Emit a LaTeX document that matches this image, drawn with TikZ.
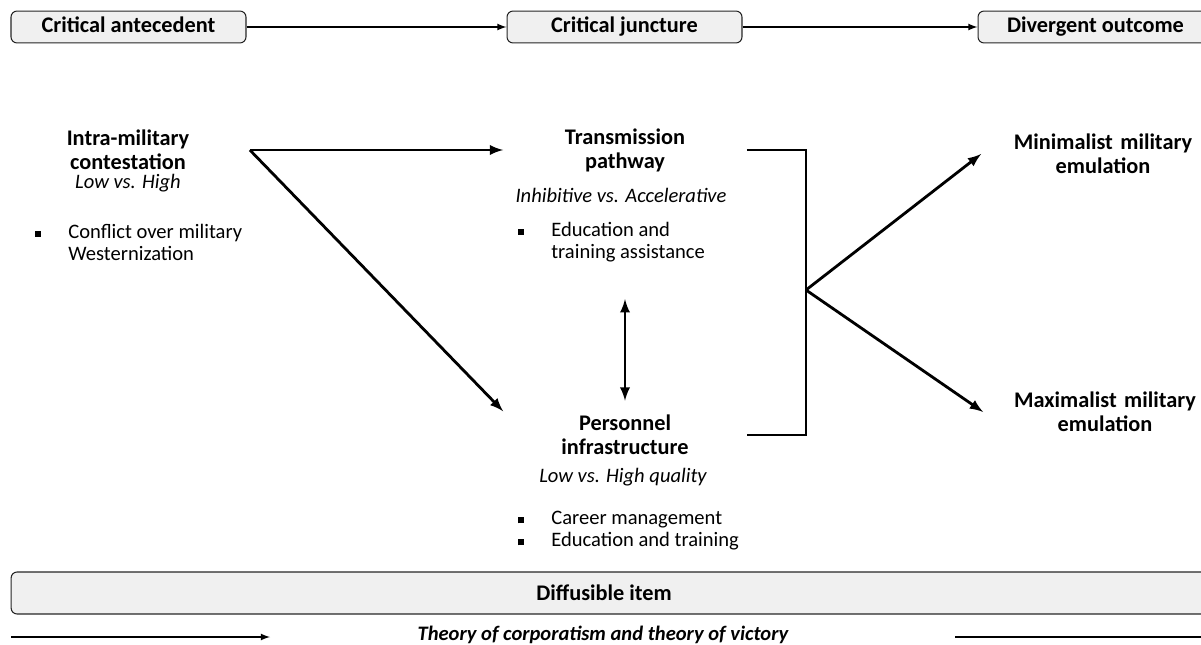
\documentclass[tikz,border=0pt]{standalone}
\usepackage{fontspec}
\setmainfont{Carlito}
\usetikzlibrary{shapes.geometric, arrows}

\newcommand{\bul}{\makebox[0.7cm][l]{\hspace{0.04cm}\rule[0.15ex]{3.4pt}{3.4pt}}}
\newcommand{\bulgap}{\hspace*{0.7cm}}

\tikzstyle{headNode} = [rectangle, minimum width=4.7cm, minimum height=0.6cm, text centered, text height=9pt, text depth=2.5pt, rounded corners=0.12cm, draw=black!85, fill=black!6, semithick, font=\bfseries\fontsize{12.7}{13.6}\selectfont]
\tikzstyle{titleNode} = [text width=4.72cm, align=center, inner sep=2pt, font=\bfseries\fontsize{12.7}{13.6}\selectfont]
\tikzstyle{valNode} = [font=\itshape\fontsize{11.7}{12.5}\selectfont]
\tikzstyle{listNode} = [anchor=west, inner sep=0pt, align=left, font=\fontsize{11.7}{12.5}\selectfont]
\tikzstyle{arrow} = [thick,->,>=latex,draw=black]
\tikzstyle{arrowT} = [ultra thick,->,>=latex,draw=black]
\tikzstyle{arrowD} = [ultra thick,<->,>=latex,draw=black]
\tikzstyle{lineT} = [ultra thick,draw=black]

\begin{document}
\begin{tikzpicture}[x=0.02cm, y=-0.02cm]
    \useasboundingbox (0,0) rectangle (1201,645);

    % stages along the top
    \node (ante) [headNode] at (128.5,27) {Critical antecedent};
    \node (junct) [headNode] at (624.5,27) {Critical juncture};
    \node (outc) [headNode] at (1095.5,27) {Divergent outcome};
    \draw [arrow] (ante) -- (junct);
    \draw [arrow] (junct) -- (outc);

    % antecedent
    \node (intra) [titleNode] at (128,150) {Intra-military\\contestation};
    \node (intraV) [valNode] at (128,183) {Low vs. High};
    \node (intraB) [listNode] at (33,242) {\bul Conflict over military\\\bulgap Westernization};

    % juncture
    \node (trans) [titleNode] at (625,150) {Transmission\\pathway};
    \node (transV) [valNode] at (621,195) {Inhibitive vs. Accelerative};
    \node (transB) [listNode] at (516,242) {\bul Education and\\\bulgap training assistance};

    \node (pers) [titleNode] at (625,435) {Personnel\\infrastructure};
    \node (persV) [valNode] at (623,477) {Low vs. High quality};
    \node (persB) [listNode] at (516,531) {\bul Career management\\\bul Education and training};

    % outcomes
    \node (mini) [titleNode] at (1103,154) {Minimalist military\\emulation};
    \node (maxi) [titleNode] at (1105,412) {Maximalist military\\emulation};
    \coordinate (fork) at (806,290);

    \draw [arrowT] (intra.east) -- (trans.west);
    \draw [arrowT] (intra.east) -- (pers.north west);
    \draw [arrowD, shorten <=21pt, shorten >=6pt] (transB.south -| pers.north) -- (pers.north);
    \draw [lineT] (trans.east) -| (fork) |- (pers.east);
    \draw [arrowT] (fork) -- (mini.west);
    \draw [arrowT] (fork) -- (maxi.west);

    % diffusible item
    \node (item) [headNode, minimum width=23.92cm, minimum height=0.84cm] at (609,593) {};
    \node (itemT) [font=\bfseries\fontsize{12.7}{13.6}\selectfont] at (604,593) {Diffusible item};
    \node (theory) [inner sep=0pt, font=\bfseries\itshape\fontsize{11.7}{12.5}\selectfont] at (603,635) {Theory of corporatism and theory of victory};
    \coordinate (thA) at (11,637);
    \coordinate (thB) at (270,637);
    \coordinate (thC) at (955,637);
    \coordinate (thD) at (1210,637);
    \draw [arrow] (thA) -- (thB);
    \draw [thick] (thC) -- (thD);
\end{tikzpicture}
\end{document}
